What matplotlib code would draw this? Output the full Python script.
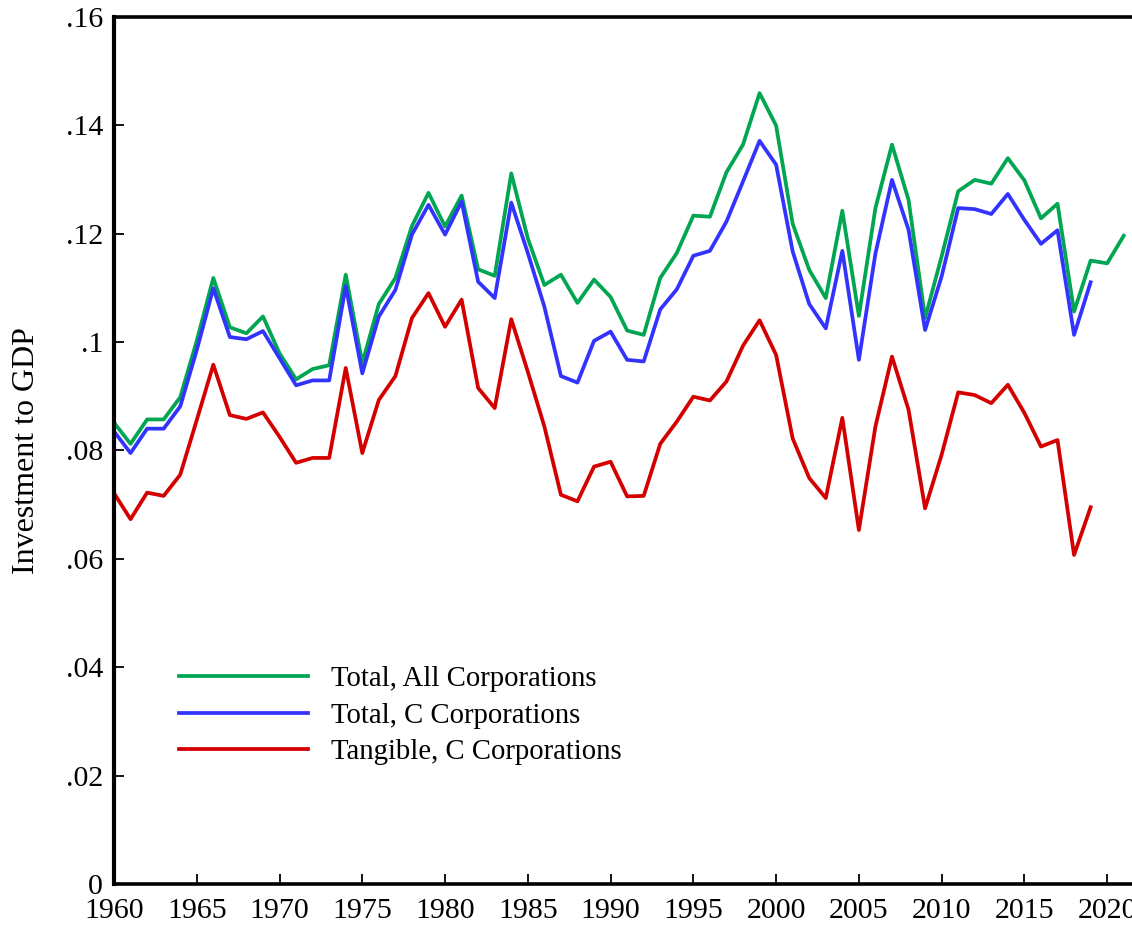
import numpy as np
import matplotlib
matplotlib.use("Agg")
import matplotlib.pyplot as plt

plt.rcParams['font.family'] = ['Liberation Serif', 'DejaVu Serif']

years_all = np.arange(1960, 2022)
years_c = np.arange(1960, 2020)

total_all = [
    .0851, .0812, .0857, .0857, .0898, .1002, .1118, .1027, .1016, .1047,
    .0979, .0931, .0950, .0957, .1124, .0961, .1070, .1118, .1214, .1275,
    .1213, .1270, .1134, .1122, .1311, .1191, .1105, .1124, .1072, .1115,
    .1083, .1021, .1013, .1118, .1164, .1233, .1231, .1313, .1364, .1459,
    .1399, .1218, .1133, .1081, .1242, .1048, .1247, .1364, .1262, .1044,
    .1158, .1278, .1299, .1292, .1339, .1298, .1228, .1255, .1056, .1150,
    .1145, .1196,
]
total_c = [
    .0835, .0795, .0840, .0840, .0881, .0985, .1099, .1009, .1005, .1020,
    .0970, .0920, .0929, .0929, .1103, .0942, .1047, .1096, .1198, .1253,
    .1198, .1259, .1111, .1081, .1257, .1164, .1065, .0937, .0925, .1002,
    .1019, .0967, .0964, .1060, .1097, .1159, .1168, .1222, .1296, .1371,
    .1327, .1167, .1070, .1025, .1168, .0967, .1163, .1299, .1207, .1022,
    .1121, .1247, .1245, .1236, .1273, .1225, .1181, .1206, .1013, .1110,
]
tangible_c = [
    .0721, .0673, .0722, .0716, .0755, .0856, .0958, .0865, .0858, .0870,
    .0825, .0777, .0786, .0786, .0952, .0795, .0893, .0937, .1044, .1090,
    .1028, .1078, .0915, .0878, .1042, .0945, .0844, .0718, .0706, .0770,
    .0779, .0715, .0716, .0812, .0853, .0899, .0892, .0927, .0993, .1040,
    .0976, .0822, .0749, .0712, .0860, .0653, .0844, .0973, .0875, .0693,
    .0792, .0907, .0902, .0887, .0921, .0869, .0807, .0819, .0607, .0695,
]

labels = ["Total, All Corporations", "Total, C Corporations", "Tangible, C Corporations"]
yticks = [0, .02, .04, .06, .08, .1, .12, .14, .16]
ytick_labels = ["0", ".02", ".04", ".06", ".08", ".1", ".12", ".14", ".16"]
xticks = np.arange(1960, 2021, 5)

fig = plt.figure(figsize=(11.32, 9.26), dpi=100)
ax = fig.add_axes([114 / 1132, 1 - 884 / 926, 1 - 114 / 1132, (884 - 16.7) / 926])

lw = 2.7
ax.plot(years_all, total_all, color="#00a651", lw=lw, label=labels[0])
ax.plot(years_c, total_c, color="#3333ff", lw=lw, label=labels[1])
ax.plot(years_c, tangible_c, color="#d40000", lw=lw, label=labels[2])

ax.set_xlim(1960, 2021.5)
ax.set_ylim(0, 0.16)
ax.set_xticks(xticks)
ax.set_yticks(yticks)
ax.set_yticklabels(ytick_labels)
ax.tick_params(direction="in", length=7.5, width=1.3, labelsize=21.5, pad=8)
ax.tick_params(axis="x", pad=10)

ax.spines["right"].set_visible(False)
ax.spines["left"].set_linewidth(3)
ax.spines["bottom"].set_linewidth(2.6)
ax.spines["top"].set_linewidth(2.6)

ax.set_ylabel("Investment to GDP", fontsize=23, labelpad=18)

ax.legend(loc="center left", bbox_to_anchor=(179 / 1132, 1 - 715.5 / 926),
          bbox_transform=fig.transFigure, frameon=False, fontsize=20.7,
          handlelength=4.5, handletextpad=0.8, labelspacing=0.36,
          borderpad=0, borderaxespad=0)

fig.savefig("out.png", dpi=100)
